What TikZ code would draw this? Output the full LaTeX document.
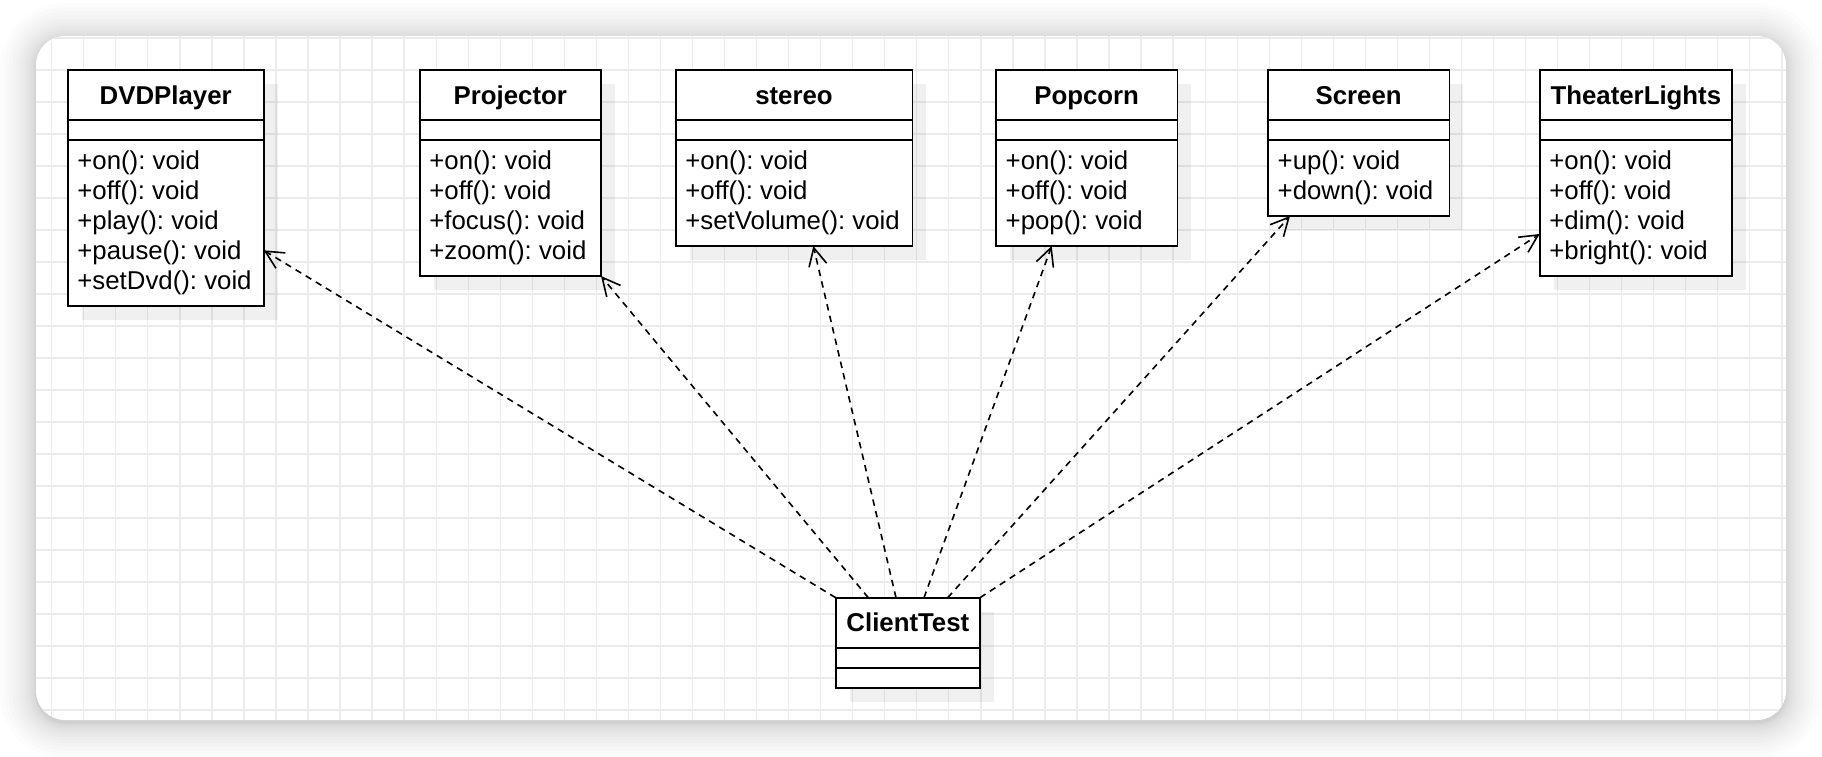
\documentclass[tikz,border=0pt]{standalone}
\usepackage{fontspec}
\setmainfont{Liberation Sans}
\usetikzlibrary{positioning,shadows,arrows.meta}
\newcommand\umlfont{\fontsize{25.8pt}{30pt}\selectfont\frenchspacing}

\begin{document}
\begin{tikzpicture}[x=1pt,y=1pt,
    every node/.style={font=\umlfont},
    boxshadow/.style={drop shadow={shadow xshift=14pt,shadow yshift=-14pt,opacity=.06,fill=black}},
    cls/.style={rectangle,draw,fill=white,line width=1.6pt,anchor=north west,minimum height=50pt,
                inner sep=0pt,outer sep=0pt,font=\umlfont\bfseries,text height=18.5pt,text depth=0pt,boxshadow},
    part/.style={rectangle,draw,fill=white,line width=1.6pt,minimum height=20pt,inner sep=0pt,outer sep=0pt,boxshadow},
    meth/.style={anchor=base west,inner sep=0pt},
    gridline/.style={line width=1.3pt,draw=black!8},
    dep/.style={line width=1.6pt,dash pattern=on 6.5pt off 5.3pt,-{Straight Barb[length=18pt,width=18pt]}}]
  \useasboundingbox (0,0) rectangle (1822,756);
  % card and grid
  \foreach \s [evaluate=\s as \e using .14*\s*\s, evaluate=\s as \r using 29+.14*\s*\s] in {1,...,16}
    \fill[black,opacity=.011,rounded corners=\r pt] (36-\e,33-\e) rectangle (1786+\e,717+\e);
  \fill[white,rounded corners=29pt] (36,36) rectangle (1786,720);
  \begin{scope}
    \clip[rounded corners=29pt] (36,36) rectangle (1786,720);
    \foreach \k in {0,...,54} \draw[gridline] (51.7+32.04*\k,36) -- ++(0,684);
    \foreach \k in {0,...,21} \draw[gridline] (36,46+32*\k) -- ++(1750,0);
  \end{scope}

  % classes
  \node[cls,minimum width=196pt] (dvd) at (67.7,686) {DVDPlayer};
  \node[part,minimum width=196pt,below=0pt of dvd] (dvd-a) {};
  \node[part,minimum width=196pt,minimum height=166pt,below=0pt of dvd-a] (dvd-m) {};
  \foreach \m [count=\i] in {+on(): void,+off(): void,+play(): void,+pause(): void,+setDvd(): void}
    \node[meth] (dvd-\i) at ([xshift=9.5pt,yshift=-30*\i+0.4]dvd-m.north west) {\m};

  \node[cls,minimum width=181.3pt] (proj) at (419.7,686) {Projector};
  \node[part,minimum width=181.3pt,below=0pt of proj] (proj-a) {};
  \node[part,minimum width=181.3pt,minimum height=136pt,below=0pt of proj-a] (proj-m) {};
  \foreach \m [count=\i] in {+on(): void,+off(): void,+focus(): void,+zoom(): void}
    \node[meth] (proj-\i) at ([xshift=9.5pt,yshift=-30*\i+0.4]proj-m.north west) {\m};

  \node[cls,minimum width=236.6pt] (stereo) at (675.7,686) {stereo};
  \node[part,minimum width=236.6pt,below=0pt of stereo] (stereo-a) {};
  \node[part,minimum width=236.6pt,minimum height=106pt,below=0pt of stereo-a] (stereo-m) {};
  \foreach \m [count=\i] in {+on(): void,+off(): void,+setVolume(): void}
    \node[meth] (stereo-\i) at ([xshift=9.5pt,yshift=-30*\i+0.4]stereo-m.north west) {\m};

  \node[cls,minimum width=181.3pt] (pop) at (996,686) {Popcorn};
  \node[part,minimum width=181.3pt,below=0pt of pop] (pop-a) {};
  \node[part,minimum width=181.3pt,minimum height=106pt,below=0pt of pop-a] (pop-m) {};
  \foreach \m [count=\i] in {+on(): void,+off(): void,+pop(): void}
    \node[meth] (pop-\i) at ([xshift=9.5pt,yshift=-30*\i+0.4]pop-m.north west) {\m};

  \node[cls,minimum width=181.3pt] (scr) at (1268,686) {Screen};
  \node[part,minimum width=181.3pt,below=0pt of scr] (scr-a) {};
  \node[part,minimum width=181.3pt,minimum height=76pt,below=0pt of scr-a] (scr-m) {};
  \foreach \m [count=\i] in {+up(): void,+down(): void}
    \node[meth] (scr-\i) at ([xshift=9.5pt,yshift=-30*\i+0.4]scr-m.north west) {\m};

  \node[cls,minimum width=192.3pt] (tl) at (1539.7,686) {TheaterLights};
  \node[part,minimum width=192.3pt,below=0pt of tl] (tl-a) {};
  \node[part,minimum width=192.3pt,minimum height=136pt,below=0pt of tl-a] (tl-m) {};
  \foreach \m [count=\i] in {+on(): void,+off(): void,+dim(): void,+bright(): void}
    \node[meth] (tl-\i) at ([xshift=9.5pt,yshift=-30*\i+0.4]tl-m.north west) {\m};

  \node[cls,minimum width=144.3pt] (ct) at (835.7,158.3) {ClientTest};
  \node[part,minimum width=144.3pt,below=0pt of ct] (ct-a) {};
  \node[part,minimum width=144.3pt,below=0pt of ct-a] (ct-m) {};

  % dependencies
  \draw[dep] (ct.north west) -- ([yshift=-27.3pt]dvd-m.east);
  \draw[dep] ([xshift=32.6pt]ct.north west) -- (proj-m.south east);
  \draw[dep] ([xshift=60.3pt]ct.north west) -- ([xshift=137.6pt]stereo-m.south west);
  \draw[dep] ([xshift=88.3pt]ct.north west) -- ([xshift=55.7pt]pop-m.south west);
  \draw[dep] ([xshift=112pt]ct.north west) -- ([xshift=22pt]scr-m.south west);
  \draw[dep] (ct.north east) -- ([yshift=42pt]tl-m.south west);
\end{tikzpicture}
\end{document}
